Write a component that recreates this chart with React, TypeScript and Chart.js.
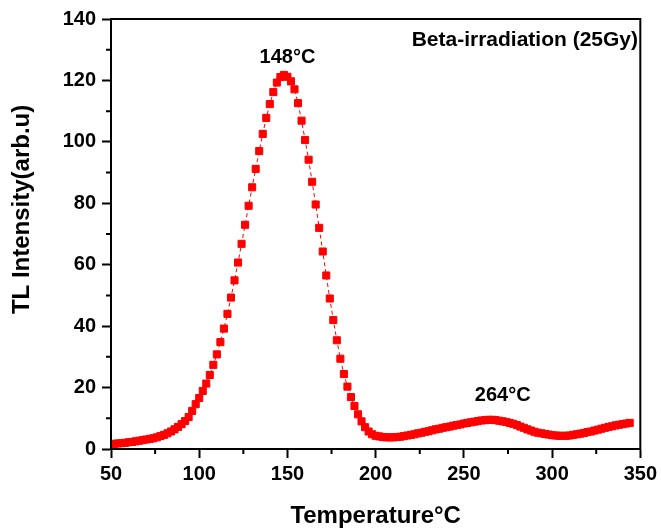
import React, { useEffect, useRef } from 'react';
import { Chart, registerables } from 'chart.js';

Chart.register(...registerables);

// Temperature (°C)
const temperatures = [
  50, 52, 54, 56, 58, 60, 62, 64, 66, 68, 70, 72, 74, 76, 78, 80, 82, 84, 86, 88,
  90, 92, 94, 96, 98, 100, 102, 104, 106, 108, 110, 112, 114, 116, 118, 120, 122, 124, 126, 128,
  130, 132, 134, 136, 138, 140, 142, 144, 146, 148, 150, 152, 154, 156, 158, 160, 162, 164, 166, 168,
  170, 172, 174, 176, 178, 180, 182, 184, 186, 188, 190, 192, 194, 196, 198, 200, 202, 204, 206, 208,
  210, 212, 214, 216, 218, 220, 222, 224, 226, 228, 230, 232, 234, 236, 238, 240, 242, 244, 246, 248,
  250, 252, 254, 256, 258, 260, 262, 264, 266, 268, 270, 272, 274, 276, 278, 280, 282, 284, 286, 288,
  290, 292, 294, 296, 298, 300, 302, 304, 306, 308, 310, 312, 314, 316, 318, 320, 322, 324, 326, 328,
  330, 332, 334, 336, 338, 340, 342, 344,
];

// TL intensity (arb.u)
const intensity = [
  1.6, 1.7, 1.8, 1.9, 2.0, 2.2, 2.3, 2.5, 2.7, 2.9, 3.1, 3.3, 3.5, 3.8, 4.2, 4.6, 5.1, 5.7, 6.4, 7.2,
  8.1, 9.1, 10.4, 12.4, 14.6, 16.6, 18.9, 21.3, 24.1, 27.4, 30.8, 34.8, 39.2, 44.0, 49.3, 54.9, 60.7, 66.8, 73.0, 79.2,
  85.2, 91.2, 97.0, 102.6, 107.8, 112.3, 116.2, 119.3, 121.1, 121.8, 121.2, 119.7, 117.1, 112.6, 106.9, 100.6, 94.2, 87.0, 79.6, 72.0,
  64.3, 56.5, 49.0, 42.0, 35.4, 29.4, 24.4, 20.3, 16.9, 14.0, 11.3, 9.0, 7.1, 5.7, 4.8, 4.3, 4.1, 3.9, 3.8, 3.8,
  3.8, 3.9, 4.0, 4.2, 4.4, 4.6, 4.8, 5.1, 5.3, 5.6, 5.8, 6.1, 6.4, 6.6, 6.9, 7.1, 7.3, 7.6, 7.8, 8.0,
  8.3, 8.5, 8.7, 8.9, 9.1, 9.3, 9.4, 9.5, 9.5, 9.4, 9.2, 9.0, 8.8, 8.5, 8.2, 7.8, 7.3, 6.9, 6.4, 6.0,
  5.6, 5.3, 5.1, 4.9, 4.7, 4.5, 4.4, 4.3, 4.3, 4.3, 4.4, 4.6, 4.8, 5.0, 5.2, 5.5, 5.7, 6.0, 6.3, 6.6,
  6.9, 7.2, 7.4, 7.7, 7.9, 8.1, 8.3, 8.5,
];

const xTickValues = [50, 100, 150, 200, 250, 300, 350];
const xMinorTicks = [75, 125, 175, 225, 275, 325];
const yTickValues = [0, 20, 40, 60, 80, 100, 120, 140];
const yMinorTicks = [10, 30, 50, 70, 90, 110, 130];

const peakLabels = [
  { text: '148°C', x: 150, y: 127.6 },
  { text: '264°C', x: 272, y: 17.3 },
];
const noteText = 'Beta-irradiation (25Gy)';
const yTitle = 'TL Intensity(arb.u)';
const xTitle = 'Temperature°C';

const FONT = '"Liberation Sans", Arial, Helvetica, sans-serif';

const decorPlugin = {
  id: 'decor',
  afterDraw(chart: any) {
    const { ctx, chartArea, scales } = chart;
    const xs = scales.x;
    const ys = scales.y;
    ctx.save();
    ctx.strokeStyle = '#000';
    ctx.lineWidth = 2;
    ctx.strokeRect(chartArea.left, chartArea.top, chartArea.right - chartArea.left, chartArea.bottom - chartArea.top);
    ctx.beginPath();
    xMinorTicks.forEach((v) => {
      const px = xs.getPixelForValue(v);
      ctx.moveTo(px, chartArea.bottom);
      ctx.lineTo(px, chartArea.bottom + 5);
    });
    yMinorTicks.forEach((v) => {
      const py = ys.getPixelForValue(v);
      ctx.moveTo(chartArea.left, py);
      ctx.lineTo(chartArea.left - 5, py);
    });
    ctx.stroke();

    ctx.fillStyle = '#000';
    ctx.font = `bold 20px ${FONT}`;
    ctx.textAlign = 'center';
    ctx.textBaseline = 'middle';
    peakLabels.forEach((l) => {
      ctx.fillText(l.text, xs.getPixelForValue(l.x), ys.getPixelForValue(l.y));
    });
    ctx.font = `bold 21px ${FONT}`;
    ctx.textAlign = 'left';
    ctx.fillText(noteText, xs.getPixelForValue(220.4), ys.getPixelForValue(133.2));

    // y axis title, placed as in the reference (slightly above the plot centre)
    ctx.font = `bold 24px ${FONT}`;
    ctx.textAlign = 'center';
    ctx.translate(22, ys.getPixelForValue(78));
    ctx.rotate(-Math.PI / 2);
    ctx.fillText(yTitle, 0, 0);
    ctx.restore();
  },
};

export default function App() {
  const canvasRef = useRef<HTMLCanvasElement | null>(null);

  useEffect(() => {
    const canvas = canvasRef.current;
    if (!canvas) return;
    const chart = new Chart(canvas, {
      type: 'line',
      data: {
        datasets: [
          {
            data: temperatures.map((t, i) => ({ x: t, y: intensity[i] })),
            borderColor: '#ff0000',
            backgroundColor: '#ff0000',
            borderWidth: 1,
            borderDash: [4, 3],
            pointStyle: 'rect',
            pointRadius: 5,
            pointBackgroundColor: '#ff0000',
            pointBorderColor: '#ff0000',
            pointBorderWidth: 1,
            tension: 0,
          },
        ],
      },
      options: {
        animation: false,
        responsive: false,
        events: [],
        layout: { padding: { top: 19, right: 20, left: 0, bottom: 0 } },
        plugins: { legend: { display: false }, tooltip: { enabled: false } },
        scales: {
          x: {
            type: 'linear',
            min: 50,
            max: 350,
            afterBuildTicks: (scale: any) => {
              scale.ticks = xTickValues.map((v) => ({ value: v }));
            },
            afterFit: (scale: any) => {
              scale.height = 83;
            },
            ticks: {
              color: '#000',
              font: { family: FONT, size: 20, weight: 'bold' },
              padding: 4,
              maxRotation: 0,
            },
            grid: { drawOnChartArea: false, drawTicks: true, tickLength: 9, tickWidth: 2, tickColor: '#000' },
            border: { display: true, width: 2, color: '#000' },
            title: {
              display: true,
              text: xTitle,
              color: '#000',
              font: { family: FONT, size: 24, weight: 'bold' },
              padding: { top: 0, bottom: 1 },
            },
          },
          y: {
            type: 'linear',
            min: 0,
            max: 140,
            afterBuildTicks: (scale: any) => {
              scale.ticks = yTickValues.map((v) => ({ value: v }));
            },
            afterFit: (scale: any) => {
              scale.width = 111;
            },
            ticks: {
              color: '#000',
              font: { family: FONT, size: 20, weight: 'bold' },
              padding: 6,
            },
            grid: { drawOnChartArea: false, drawTicks: true, tickLength: 9, tickWidth: 2, tickColor: '#000' },
            border: { display: true, width: 2, color: '#000' },
            title: { display: false },
          },
        },
      },
      plugins: [decorPlugin],
    } as any);
    return () => chart.destroy();
  }, []);

  return (
    <div style={{ position: 'absolute', left: 0, top: 0, width: 661, height: 532, background: '#fff' }}>
      <canvas ref={canvasRef} width={661} height={532} style={{ display: 'block' }} />
    </div>
  );
}
